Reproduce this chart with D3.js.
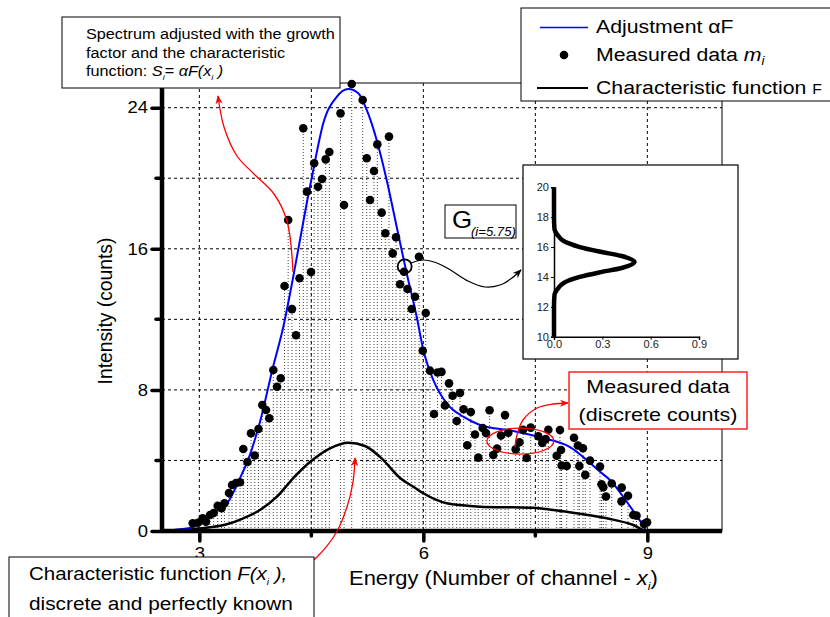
<!DOCTYPE html>
<meta charset="utf-8">
<title>Spectrum adjustment</title>
<script src="https://d3js.org/d3.v7.min.js"></script>
<style>
  body { margin: 0; background: #fff; }
  svg { font-family: "Liberation Sans", Arial, sans-serif; }
</style>
<body>
<div id="chart"></div>
<script>

// measured data m_i (channel, counts)
var measuredX = [2.911, 2.982, 3.045, 3.089, 3.143, 3.192, 3.246, 3.297, 3.337, 3.397,
  3.438, 3.491, 3.545, 3.589, 3.645, 3.692, 3.742, 3.792, 3.843, 3.893,
  3.937, 3.991, 4.040, 4.090, 4.141, 4.190, 4.241, 4.295, 4.342, 4.392,
  4.442, 4.496, 4.538, 4.589, 4.643, 4.692, 4.741, 4.891, 4.938, 5.041,
  5.188, 5.242, 5.286, 5.339, 5.384, 5.442, 5.491, 5.540, 5.590, 5.634,
  5.688, 5.741, 5.788, 5.844, 5.888, 5.942, 5.992, 6.032, 6.089, 6.143,
  6.190, 6.243, 6.290, 6.344, 6.393, 6.447, 6.491, 6.539, 6.589, 6.636,
  6.692, 6.736, 6.795, 6.839, 6.887, 6.937, 6.987, 7.040, 7.094, 7.138,
  7.237, 7.287, 7.336, 7.384, 7.438, 7.540, 7.593, 7.639, 7.674, 7.786,
  7.830, 7.844, 7.853, 7.920, 8.018, 8.071, 8.089, 8.138, 8.169, 8.232,
  8.366, 8.386, 8.410, 8.446, 8.523, 8.654, 8.657, 8.741, 8.812, 8.855,
  8.955, 8.996];
var measuredY = [0.44, 0.47, 0.72, 0.53, 0.91, 1.02, 1.43, 1.29, 1.57, 2.15,
  2.61, 2.72, 2.76, 4.65, 3.91, 5.54, 4.28, 5.78, 7.14, 6.86,
  6.39, 9.13, 8.18, 8.66, 13.89, 17.63, 12.58, 11.10, 14.33, 22.83,
  19.24, 14.68, 20.85, 19.52, 19.96, 21.07, 21.49, 23.68, 18.48, 25.34,
  24.44, 21.13, 18.77, 20.41, 21.92, 18.05, 16.88, 22.36, 15.74, 16.65,
  13.99, 14.70, 13.72, 12.59, 13.28, 15.55, 10.22, 12.36, 9.09, 6.63,
  8.99, 9.02, 7.12, 8.37, 7.67, 6.24, 7.82, 6.90, 4.86, 6.75,
  5.47, 4.16, 5.84, 5.56, 6.85, 4.31, 4.67, 5.41, 6.57, 5.57,
  4.63, 5.03, 5.74, 4.14, 5.86, 5.37, 4.99, 5.21, 5.74, 4.27,
  5.73, 4.59, 3.71, 3.69, 5.29, 4.85, 3.69, 4.69, 3.18, 3.99,
  3.65, 2.65, 2.48, 1.96, 2.69, 1.68, 2.46, 2.00, 0.91, 0.87,
  0.40, 0.49];

// adjustment alpha*F (blue)
var fitX = [2.5, 2.875, 2.996, 3.21, 3.384, 3.545, 3.652, 3.812, 3.987, 4.125,
  4.258, 4.438, 4.526, 4.660, 4.840, 4.995, 5.129, 5.242, 5.375, 5.509,
  5.643, 5.777, 5.911, 6.0, 6.134, 6.313, 6.535, 6.759, 7.205, 7.562,
  7.964, 8.366, 8.5, 8.724, 8.925, 8.996, 10];
var fitY = [0.02, 0.17, 0.40, 1.08, 1.64, 3.00, 4.03, 6.18, 9.30, 11.58,
  14.42, 18.58, 20.47, 23.12, 24.62, 25.06, 24.82, 23.87, 22.17, 19.90,
  17.25, 14.61, 12.15, 10.26, 8.56, 7.24, 6.48, 6.01, 5.67, 5.31,
  4.76, 3.36, 2.89, 1.66, 0.44, 0, 0];

// characteristic function F (black)
var charX = [2.5, 2.996, 3.143, 3.367, 3.589, 3.812, 4.036, 4.258, 4.482, 4.750,
  4.995, 5.219, 5.420, 5.710, 5.866, 6.0, 6.313, 6.491, 6.759, 7.205,
  7.473, 7.741, 7.920, 8.456, 8.812, 8.996, 10];
var charY = [0.01, 0.14, 0.21, 0.38, 0.72, 1.19, 1.93, 3.0, 3.91, 4.69,
  5.01, 4.82, 4.20, 2.93, 2.51, 2.14, 1.57, 1.47, 1.38, 1.34,
  1.32, 1.19, 1.09, 0.72, 0.34, 0, 0];

// inset: G at i = 5.75
var insetCounts = [10, 12, 12.8, 13, 13.3, 13.6, 14, 14.3, 14.6, 15, 15.4, 15.7, 16, 16.4, 16.7, 17, 17.2, 18, 20];
var insetProb = [0, 0, 0.003, 0.01, 0.03, 0.06, 0.16, 0.28, 0.42, 0.5, 0.42, 0.28, 0.16, 0.06, 0.03, 0.01, 0.003, 0, 0];

var xTicks = [3, 6, 9], xMinor = [4.5, 7.5];
var yTicks = [0, 8, 16, 24], yMinor = [4, 12, 20];
var insetYTicks = [10, 12, 14, 16, 18, 20], insetXTicks = [0, 0.3, 0.6, 0.9];
var pointG = {x: 5.75, y: 15};
var highlight = {x: 7.3, y: 5.1};

var W = 830, H = 617;
var plot = {left: 162, right: 722, top: 83, bottom: 531};
var SX = 1.12; // the original figure is a bit wider than tall in its lettering

var svg = d3.select("#chart").append("svg")
  .attr("width", W).attr("height", H);

// text placed at (tx,ty), stretched horizontally like the source
function label(parent, tx, ty, size, sx) {
  return parent.append("text")
    .attr("transform", "translate(" + tx + "," + ty + ") scale(" + (sx || SX) + ",1)")
    .attr("font-size", size);
}

var x = d3.scaleLinear().domain([2.5, 10]).range([plot.left, plot.right]);
var y = d3.scaleLinear().domain([0, 25.4]).range([plot.bottom, plot.top]);

var defs = svg.append("defs");
function arrowMarker(id, color) {
  defs.append("marker")
    .attr("id", id)
    .attr("viewBox", "0 0 10 10")
    .attr("refX", 9).attr("refY", 5)
    .attr("markerWidth", 9).attr("markerHeight", 9)
    .attr("markerUnits", "userSpaceOnUse")
    .attr("orient", "auto")
    .append("path").attr("d", "M0,1 L10,5 L0,9 L3,5 Z").attr("fill", color);
}
arrowMarker("redArrow", "red");
arrowMarker("blackArrow", "black");

// grid
var grid = svg.append("g").attr("stroke", "#000").attr("stroke-width", 1)
  .attr("stroke-dasharray", "3,3");
xTicks.concat(xMinor).forEach(function(t) {
  grid.append("line").attr("x1", x(t)).attr("x2", x(t))
    .attr("y1", plot.top).attr("y2", plot.bottom);
});
yTicks.concat(yMinor).forEach(function(t) {
  if (t == 0) return;
  grid.append("line").attr("x1", plot.left).attr("x2", plot.right)
    .attr("y1", y(t)).attr("y2", y(t));
});

var measured = measuredX.map(function(d, i) { return {x: d, y: measuredY[i]}; });

// drop lines (stippled area)
svg.append("g").selectAll("line").data(measured).enter().append("line")
  .attr("x1", function(d) { return x(d.x); })
  .attr("x2", function(d) { return x(d.x); })
  .attr("y1", y(0))
  .attr("y2", function(d) { return y(d.y); })
  .attr("stroke", "#333")
  .attr("stroke-width", 0.9)
  .attr("stroke-dasharray", "1,2");

var line = d3.line()
  .x(function(d) { return x(d[0]); })
  .y(function(d) { return y(d[1]); })
  .curve(d3.curveMonotoneX);

svg.append("path")
  .attr("d", line(charX.map(function(d, i) { return [d, charY[i]]; })))
  .attr("fill", "none").attr("stroke", "#000").attr("stroke-width", 2.5);

svg.append("path")
  .attr("d", line(fitX.map(function(d, i) { return [d, fitY[i]]; })))
  .attr("fill", "none").attr("stroke", "#0000ff").attr("stroke-width", 2);

svg.append("g").selectAll("circle").data(measured).enter().append("circle")
  .attr("cx", function(d) { return x(d.x); })
  .attr("cy", function(d) { return y(d.y); })
  .attr("r", 4.3)
  .attr("fill", "#000");

// frame + axes
svg.append("rect")
  .attr("x", plot.left).attr("y", plot.top)
  .attr("width", plot.right - plot.left).attr("height", plot.bottom - plot.top)
  .attr("fill", "none").attr("stroke", "#000").attr("stroke-width", 1);

var xAxis = svg.append("g").attr("transform", "translate(0," + plot.bottom + ")")
  .call(d3.axisBottom(x).tickValues(xTicks).tickSize(10).tickPadding(6).tickFormat(d3.format("d")));
xAxis.select(".domain").attr("stroke-width", 4.5).attr("d", "M" + plot.left + ",0H" + plot.right);
xAxis.selectAll(".tick line").attr("stroke-width", 3.5).attr("stroke-linecap", "round");
xAxis.selectAll("text").attr("font-size", 16.5).attr("font-family", "Liberation Sans, Arial, sans-serif")
  .attr("transform", "scale(" + SX + ",1)");
xMinor.forEach(function(t) {
  xAxis.append("line").attr("x1", x(t)).attr("x2", x(t)).attr("y1", 0).attr("y2", 5)
    .attr("stroke", "#000").attr("stroke-width", 3.5).attr("stroke-linecap", "round");
});
// stretch around each tick so labels stay centred
xAxis.selectAll(".tick text").attr("transform", null).each(function() {
  d3.select(this).attr("transform", "scale(" + SX + ",1)").attr("x", 0);
});

var yAxis = svg.append("g").attr("transform", "translate(" + plot.left + ",0)")
  .call(d3.axisLeft(y).tickValues(yTicks).tickSize(10).tickPadding(5));
yAxis.select(".domain").attr("stroke-width", 4.5).attr("d", "M0," + plot.bottom + "V" + plot.top);
yAxis.selectAll(".tick line").attr("stroke-width", 3.5).attr("stroke-linecap", "round");
yAxis.selectAll(".tick text").attr("font-size", 16.5).attr("font-family", "Liberation Sans, Arial, sans-serif")
  .attr("x", 0).attr("transform", "translate(-14,0) scale(" + SX + ",1)");
yMinor.forEach(function(t) {
  yAxis.append("line").attr("x1", 0).attr("x2", -6).attr("y1", y(t)).attr("y2", y(t))
    .attr("stroke", "#000").attr("stroke-width", 3.5).attr("stroke-linecap", "round");
});

// axis titles
svg.append("text")
  .attr("transform", "translate(112," + 311 + ") rotate(-90)")
  .attr("text-anchor", "middle").attr("font-size", 19.3)
  .text("Intensity (counts)");

var xt = label(svg, 349, 585, 19.6);
xt.append("tspan").text("Energy (Number of channel - ");
xt.append("tspan").attr("font-style", "italic").text("x");
xt.append("tspan").attr("font-size", 11).attr("font-style", "italic").attr("dy", 5).text("i");
xt.append("tspan").attr("dy", -5).text(")");

// annotation: G at point 5.75
svg.append("circle").attr("cx", x(pointG.x)).attr("cy", y(pointG.y)).attr("r", 7)
  .attr("fill", "none").attr("stroke", "#000").attr("stroke-width", 1.8);

var curvy = d3.line().curve(d3.curveCatmullRom);
svg.append("path")
  .attr("d", curvy([[411, 263], [423, 260], [437, 263], [452, 271], [468, 281], [485, 287], [500, 285], [512, 278], [521, 270]]))
  .attr("fill", "none").attr("stroke", "#000").attr("stroke-width", 1.2)
  .attr("marker-end", "url(#blackArrow)");

svg.append("rect").attr("x", 445).attr("y", 205).attr("width", 71).attr("height", 33)
  .attr("fill", "#fff").attr("stroke", "#000").attr("stroke-width", 1);
label(svg, 452, 228, 24, 1.08).text("G");
label(svg, 471, 236, 12.5, 1.05).attr("font-style", "italic").text("(i=5.75)");

// inset
var inset = svg.append("g");
inset.append("rect").attr("x", 523).attr("y", 165).attr("width", 215).attr("height", 194)
  .attr("fill", "#fff").attr("stroke", "#000").attr("stroke-width", 1.2);
var ix = d3.scaleLinear().domain([0, 0.9]).range([554, 699]);
var iy = d3.scaleLinear().domain([10, 20]).range([336.7, 187.3]);
var iyAxis = inset.append("g").attr("transform", "translate(554,0)")
  .call(d3.axisLeft(iy).tickValues(insetYTicks).tickSize(3).tickPadding(2));
var ixAxis = inset.append("g").attr("transform", "translate(0,336.7)")
  .call(d3.axisBottom(ix).tickValues(insetXTicks).tickSize(3).tickPadding(1).tickFormat(d3.format(".1f")));
[iyAxis, ixAxis].forEach(function(a) {
  a.select(".domain").attr("stroke-width", 1.5);
  a.selectAll("text").attr("font-size", 11).attr("font-family", "Liberation Sans, Arial, sans-serif").attr("fill", "#222");
});
inset.append("path")
  .attr("d", d3.line()
    .x(function(d) { return ix(d[1]); })
    .y(function(d) { return iy(d[0]); })
    .curve(d3.curveMonotoneY)(insetCounts.map(function(d, i) { return [d, insetProb[i]]; })))
  .attr("fill", "none").attr("stroke", "#000").attr("stroke-width", 4.5);

// red annotations
svg.append("path")
  .attr("d", curvy([[293, 272], [287, 221], [274, 194], [254, 174], [237, 156], [224, 127], [218, 96]]))
  .attr("fill", "none").attr("stroke", "red").attr("stroke-width", 1.3)
  .attr("marker-end", "url(#redArrow)");

svg.append("ellipse").attr("cx", x(highlight.x)).attr("cy", y(highlight.y))
  .attr("rx", 33.5).attr("ry", 13)
  .attr("fill", "none").attr("stroke", "red").attr("stroke-width", 1.3);
svg.append("path")
  .attr("d", curvy([[515, 447], [517, 435], [523, 420], [537, 408], [553, 404], [568, 403]]))
  .attr("fill", "none").attr("stroke", "red").attr("stroke-width", 1.3)
  .attr("marker-end", "url(#redArrow)");

svg.append("path")
  .attr("d", curvy([[290, 578], [317, 557], [336, 533], [347, 507], [353, 482], [355, 458]]))
  .attr("fill", "none").attr("stroke", "red").attr("stroke-width", 1.3)
  .attr("marker-end", "url(#redArrow)");

svg.append("rect").attr("x", 569).attr("y", 372).attr("width", 178).attr("height", 57)
  .attr("fill", "#fff").attr("stroke", "red").attr("stroke-width", 1.3);
label(svg, 658, 393, 19.2).attr("text-anchor", "middle").text("Measured data");
label(svg, 658, 421, 19.2).attr("text-anchor", "middle").text("(discrete counts)");

// top-left note
svg.append("rect").attr("x", 62).attr("y", 17).attr("width", 278).attr("height", 71)
  .attr("fill", "#fff").attr("stroke", "#000").attr("stroke-width", 1);
label(svg, 86, 39, 14.5).text("Spectrum adjusted with the growth");
label(svg, 86, 57.5, 14.5).text("factor and the characteristic");
var t3 = label(svg, 86, 76, 14.5);
t3.append("tspan").text("function: ");
t3.append("tspan").attr("font-style", "italic").text("S");
t3.append("tspan").attr("font-style", "italic").attr("font-size", 8).attr("dy", 4).text("i");
t3.append("tspan").attr("dy", -4).text("= ");
t3.append("tspan").attr("font-style", "italic").text("αF(x");
t3.append("tspan").attr("font-style", "italic").attr("font-size", 8).attr("dy", 4).text("i");
t3.append("tspan").attr("font-style", "italic").attr("dy", -4).text(" )");

// legend
var lg = svg.append("g");
lg.append("rect").attr("x", 521).attr("y", 8).attr("width", 320).attr("height", 93)
  .attr("fill", "#fff").attr("stroke", "#000").attr("stroke-width", 1);
lg.append("line").attr("x1", 540).attr("x2", 588).attr("y1", 27.5).attr("y2", 27.5)
  .attr("stroke", "#0000ff").attr("stroke-width", 1.5);
label(lg, 596, 33, 19).text("Adjustment αF");
lg.append("circle").attr("cx", 564).attr("cy", 55).attr("r", 4.3).attr("fill", "#000");
var l2 = label(lg, 596, 61, 19);
l2.append("tspan").text("Measured data ");
l2.append("tspan").attr("font-style", "italic").text("m");
l2.append("tspan").attr("font-style", "italic").attr("font-size", 12).attr("dy", 4).text("i");
lg.append("line").attr("x1", 537).attr("x2", 588).attr("y1", 88).attr("y2", 88)
  .attr("stroke", "#000").attr("stroke-width", 2.2);
var l3 = label(lg, 596, 94, 19);
l3.append("tspan").text("Characteristic function ");
l3.append("tspan").attr("font-size", 14).text("F");

// bottom-left note
svg.append("rect").attr("x", 9).attr("y", 557).attr("width", 305).attr("height", 70)
  .attr("fill", "#fff").attr("stroke", "#000").attr("stroke-width", 1);
var b1 = label(svg, 29, 580, 18.3);
b1.append("tspan").text("Characteristic function ");
b1.append("tspan").attr("font-style", "italic").text("F(x");
b1.append("tspan").attr("font-style", "italic").attr("font-size", 9).attr("dy", 5).text("i");
b1.append("tspan").attr("font-style", "italic").attr("dy", -5).text(" ),");
label(svg, 29, 610, 18.6).text("discrete and perfectly known");

</script>
</body>
